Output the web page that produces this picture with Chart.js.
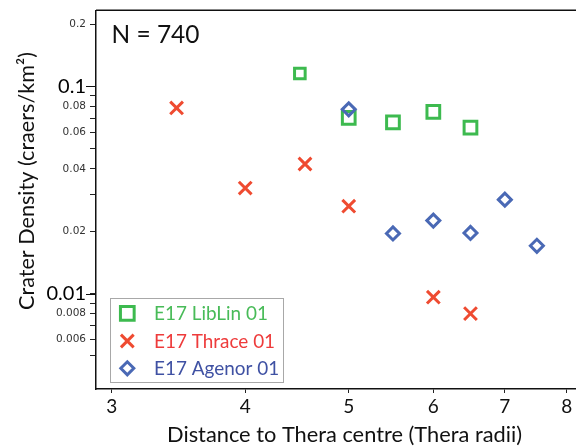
<!DOCTYPE html>
<html><head><meta charset="utf-8">
<script src="https://cdn.jsdelivr.net/npm/chart.js@4/dist/chart.umd.min.js"></script>
<style>html,body{margin:0;padding:0;background:#fff;overflow:hidden}canvas{display:block}</style>
</head><body>
<canvas id="c" width="576" height="446"></canvas>
<script>
// ---- data ----
const seriesNames = ['E17 LibLin 01', 'E17 Thrace 01', 'E17 Agenor 01'];
const libLinX = [4.5, 5, 5.5, 6, 6.5];
const libLinY = [0.1155, 0.0705, 0.0671, 0.0753, 0.0632];
const thraceX = [3.45, 4, 4.55, 5, 6, 6.5];
const thraceY = [0.0787, 0.0323, 0.0422, 0.0264, 0.0096, 0.0080];
const agenorX = [5, 5.5, 6, 6.5, 7, 7.5];
const agenorY = [0.0775, 0.0195, 0.0225, 0.0196, 0.0284, 0.0170];
const xTickValues = [3, 4, 5, 6, 7, 8];
const xTickLabels = ['3', '4', '5', '6', '7', '8'];
const yTickValues = [0.005, 0.006, 0.007, 0.008, 0.009, 0.01, 0.02, 0.03, 0.04, 0.05, 0.06, 0.07, 0.08, 0.09, 0.1, 0.2];
const yTickLabels = ['', '0.006', '', '0.008', '', '0.01', '0.02', '', '0.04', '', '0.06', '', '0.08', '', '0.1', '0.2'];
const bigYLabels = ['0.1', '0.01'];
const annotationText = 'N = 740';
const xTitle = 'Distance to Thera centre (Thera radii)';
const yTitle = 'Crater Density (craers/km\u00B2)';

// ---- styles ----
const GREEN = '#3dba4f', RED = '#ef4b31', BLUE = '#4a69b5';
const GREEN_T = '#48bb58', RED_T = '#ee3b3b', BLUE_T = '#3f51a3';
const FAMILY = 'Lato';

const toPoints = (xs, ys) => xs.map((x, i) => ({ x: x, y: ys[i] }));

function fitSize(ctx, text, family, target) {
  ctx.font = '100px ' + family;
  return 100 * target / ctx.measureText(text).width;
}

function drawMarker(ctx, style, r, x, y, color) {
  ctx.save();
  ctx.strokeStyle = color; ctx.lineWidth = 3; ctx.fillStyle = 'rgba(0,0,0,0)';
  if (Chart.helpers && Chart.helpers.drawPoint) {
    Chart.helpers.drawPoint(ctx, { pointStyle: style, radius: r, rotation: 0, borderWidth: 3 }, x, y);
  }
  ctx.restore();
}

const extras = {
  id: 'extras',
  afterDraw(chart) {
    const ctx = chart.ctx, a = chart.chartArea;
    const ys = chart.scales.y;
    ctx.save();
    // top frame line
    ctx.strokeStyle = '#111'; ctx.lineWidth = 1.5;
    ctx.beginPath(); ctx.moveTo(a.left, a.top); ctx.lineTo(a.right, a.top); ctx.stroke();
    // longer major ticks
    ctx.lineWidth = 1;
    [0.1, 0.01].forEach(v => {
      const p = Math.round(ys.getPixelForValue(v)) + 0.5;
      ctx.beginPath(); ctx.moveTo(a.left - 10, p); ctx.lineTo(a.left, p); ctx.stroke();
    });
    // annotation
    ctx.fillStyle = '#111';
    ctx.textAlign = 'left'; ctx.textBaseline = 'alphabetic';
    let s = fitSize(ctx, annotationText, FAMILY, 88);
    ctx.font = s + 'px ' + FAMILY;
    ctx.fillText(annotationText, 111.5, 42.5);
    // x title
    s = fitSize(ctx, xTitle, FAMILY, 355);
    ctx.font = s + 'px ' + FAMILY;
    ctx.textAlign = 'center';
    ctx.fillText(xTitle, 344.5, 442);
    // y title
    s = fitSize(ctx, yTitle, FAMILY, 258);
    ctx.font = s + 'px ' + FAMILY;
    ctx.save();
    ctx.translate(34, 181);
    ctx.rotate(-Math.PI / 2);
    ctx.fillText(yTitle, 0, 0);
    ctx.restore();
    // legend
    ctx.fillStyle = '#fff';
    ctx.fillRect(110.5, 298.5, 173, 84);
    ctx.strokeStyle = '#a8a8a8'; ctx.lineWidth = 1;
    ctx.strokeRect(110.5, 298.5, 173, 84);
    const rows = [313.3, 341, 368.3];
    const lcol = [GREEN_T, RED_T, BLUE_T];
    const ls = fitSize(ctx, seriesNames[0], FAMILY, 114);
    chart.data.datasets.forEach((ds, i) => {
      const r = i === 0 ? 9.7 : ds.pointRadius;
      drawMarker(ctx, ds.pointStyle, r, 127.3, rows[i], ds.pointBorderColor);
      ctx.font = ls + 'px ' + FAMILY;
      ctx.fillStyle = lcol[i];
      ctx.textAlign = 'left'; ctx.textBaseline = 'middle';
      ctx.fillText(seriesNames[i], 154, rows[i] + 0.5);
    });
    ctx.restore();
  }
};

new Chart(document.getElementById('c'), {
  type: 'scatter',
  data: {
    datasets: [
      { label: seriesNames[0], data: toPoints(libLinX, libLinY), pointStyle: 'rect',
        pointRadius: [7.5, 9, 9, 9, 9], pointBorderWidth: 3, pointBorderColor: GREEN,
        pointBackgroundColor: 'rgba(0,0,0,0)', order: 2 },
      { label: seriesNames[1], data: toPoints(thraceX, thraceY), pointStyle: 'crossRot',
        pointRadius: 9, pointBorderWidth: 3, pointBorderColor: RED,
        pointBackgroundColor: 'rgba(0,0,0,0)', order: 1 },
      { label: seriesNames[2], data: toPoints(agenorX, agenorY), pointStyle: 'rectRot',
        pointRadius: 6.5, pointBorderWidth: 3, pointBorderColor: BLUE,
        pointBackgroundColor: 'rgba(0,0,0,0)', order: 0 }
    ]
  },
  options: {
    responsive: false,
    animation: false,
    events: [],
    layout: { autoPadding: false, padding: { top: 9, right: 0, left: 0, bottom: 0 } },
    plugins: { legend: { display: false }, tooltip: { enabled: false } },
    scales: {
      x: {
        type: 'logarithmic', min: 2.912, max: 8.16,
        afterBuildTicks: s => { s.ticks = xTickValues.map(v => ({ value: v })); },
        afterFit: s => { s.height = 57; },
        ticks: { autoSkip: false, maxRotation: 0, padding: 2,
          callback: (v, i) => xTickLabels[i],
          font: { family: FAMILY, size: 19 }, color: '#111' },
        grid: { drawOnChartArea: false, drawTicks: true, tickLength: 4, color: '#222', lineWidth: 1 },
        border: { display: true, color: '#111', width: 1.5 }
      },
      y: {
        type: 'logarithmic', min: 0.00346, max: 0.233,
        afterBuildTicks: s => { s.ticks = yTickValues.map(v => ({ value: v })); },
        afterFit: s => { s.width = 96; },
        ticks: { autoSkip: false, padding: 4,
          callback: (v, i) => yTickLabels[i],
          font: c => bigYLabels.includes(yTickLabels[c.index]) ? { family: FAMILY, size: 20 } : { family: 'DejaVu Sans', size: 10.5 },
          color: c => bigYLabels.includes(yTickLabels[c.index]) ? '#000' : '#333' },
        grid: { drawOnChartArea: false, drawTicks: true, tickLength: 6, color: '#222', lineWidth: 1 },
        border: { display: true, color: '#111', width: 1.5 }
      }
    }
  },
  plugins: [extras]
});
</script>
</body></html>
